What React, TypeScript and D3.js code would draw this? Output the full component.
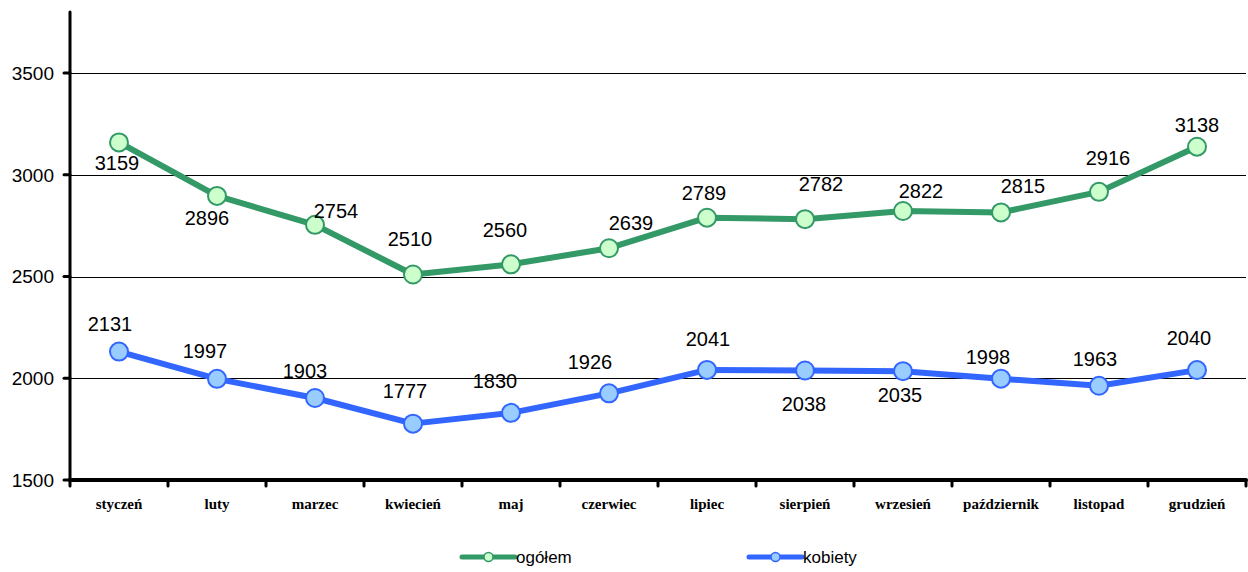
import React from "react";
import * as d3 from "d3";

const months = ["styczeń", "luty", "marzec", "kwiecień", "maj", "czerwiec", "lipiec", "sierpień", "wrzesień", "październik", "listopad", "grudzień"];
const ogolem = [3159, 2896, 2754, 2510, 2560, 2639, 2789, 2782, 2822, 2815, 2916, 3138];
const kobiety = [2131, 1997, 1903, 1777, 1830, 1926, 2041, 2038, 2035, 1998, 1963, 2040];
const yTicks = [1500, 2000, 2500, 3000, 3500];

// label offsets (layout, px) relative to the point
const ogolemLabelOffsets: [number, number][] = [[-2, 20], [-10, 22], [21, -14], [-3, -36], [-6, -35], [22, -25], [-3, -25], [16, -35], [18, -20], [22, -27], [9, -34], [0, -22]];
const kobietyLabelOffsets: [number, number][] = [[-9, -28], [-12, -28], [-10, -27], [-8, -33], [-16, -32], [-19, -32], [1, -31], [-1, 33], [-3, 24], [-13, -22], [-4, -27], [-8, -32]];

const W = 1248, H = 572;
const left = 70, right = 1246, top = 12, bottom = 480;

export default function App() {
  const x = d3.scaleBand<string>().domain(months).range([left, right]);
  const y = d3.scaleLinear().domain([1500, 3800]).range([bottom, top]);
  const cx = (m: string) => (x(m) as number) + x.bandwidth() / 2;
  const line = d3.line<number>().x((_, i) => cx(months[i])).y((v) => y(v));
  const series = [
    { name: "ogółem", data: ogolem, offs: ogolemLabelOffsets, stroke: "#339966", fill: "#ccffcc", lx: 462 },
    { name: "kobiety", data: kobiety, offs: kobietyLabelOffsets, stroke: "#3366ff", fill: "#99ccff", lx: 749 },
  ];
  const boundaries = months.map((m) => x(m) as number).concat([right]);
  return (
    <svg width={W} height={H} style={{ position: "absolute", left: 0, top: 0, background: "#fff" }} fontFamily="'Liberation Sans', Arial, sans-serif">
      {yTicks.filter((t) => t > 1500).map((t) => (
        <line key={t} x1={left} x2={right} y1={Math.round(y(t)) + 0.5} y2={Math.round(y(t)) + 0.5} stroke="#000" strokeWidth={1} />
      ))}
      {/* y axis */}
      <line x1={left} x2={left} y1={top} y2={bottom} stroke="#000" strokeWidth={3} strokeLinecap="round" />
      {yTicks.map((t) => (
        <g key={t}>
          <line x1={64} x2={left} y1={y(t)} y2={y(t)} stroke="#000" strokeWidth={3} strokeLinecap="round" />
          <text x={54} y={y(t)} dy="0.36em" textAnchor="end" fontSize={19} fill="#000">{t}</text>
        </g>
      ))}
      {/* x axis */}
      <line x1={left} x2={right} y1={bottom} y2={bottom} stroke="#000" strokeWidth={4} strokeLinecap="round" />
      {boundaries.map((b, i) => (
        <line key={i} x1={b} x2={b} y1={bottom} y2={bottom + 6} stroke="#000" strokeWidth={3} strokeLinecap="round" />
      ))}
      {months.map((m) => (
        <text key={m} x={cx(m)} y={509} textAnchor="middle" fontFamily="'Liberation Serif', 'Times New Roman', serif" fontWeight="bold" fontSize={15} fill="#000">{m}</text>
      ))}
      {series.map((s) => (
        <g key={s.name}>
          <path d={line(s.data) || ""} fill="none" stroke={s.stroke} strokeWidth={6} strokeLinejoin="round" />
          {s.data.map((v, i) => (
            <circle key={i} cx={cx(months[i])} cy={y(v)} r={9} fill={s.fill} stroke={s.stroke} strokeWidth={2} />
          ))}
          {s.data.map((v, i) => (
            <text key={"t" + i} x={cx(months[i]) + s.offs[i][0]} y={y(v) + s.offs[i][1]} dy="0.36em" textAnchor="middle" fontSize={20} fill="#000">{v}</text>
          ))}
          <line x1={s.lx} x2={s.lx + 53} y1={557} y2={557} stroke={s.stroke} strokeWidth={5} strokeLinecap="round" />
          <circle cx={s.lx + 26.5} cy={557} r={4.5} fill={s.fill} stroke={s.stroke} strokeWidth={1.5} />
          <text x={s.lx + 54} y={563} fontSize={17} fill="#000">{s.name}</text>
        </g>
      ))}
    </svg>
  );
}
